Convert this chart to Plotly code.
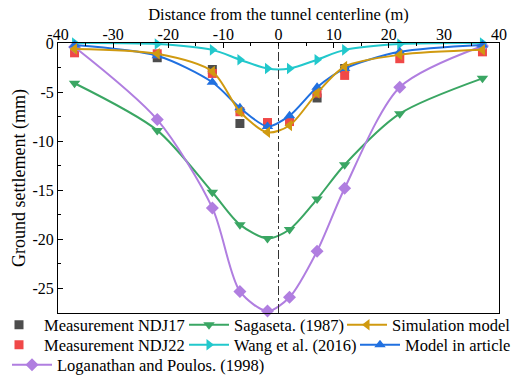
import plotly.graph_objects as go

x = [-37, -22, -12, -7, -2, 2, 7, 12, 22, 37]

ndj17_x = [-22, -12, -7, 7, 12]
ndj17_y = [-1.5, -2.7, -8.2, -5.6, -2.6]

ndj22_x = [-37, -22, -12, -7, -2, 2, 7, 12, 22, 37]
ndj22_y = [-1.0, -1.1, -3.1, -7.0, -8.1, -8.0, -5.1, -3.3, -1.6, -0.9]

sagaseta = [-4.1, -8.9, -15.2, -18.5, -19.9, -19.0, -15.9, -12.4, -7.2, -3.6]
wang = [0.0, -0.1, -0.7, -1.7, -2.6, -2.6, -1.7, -0.7, -0.1, 0.0]
simulation = [-0.6, -1.1, -2.9, -7.0, -9.1, -8.4, -5.1, -2.4, -1.2, -0.7]
model = [-0.2, -1.3, -4.0, -6.6, -8.5, -7.4, -4.5, -2.6, -0.9, -0.2]
loganathan = [-0.4, -7.8, -16.8, -25.3, -27.3, -25.9, -21.2, -14.8, -4.5, -0.3]

x_ticks = [-40, -30, -20, -10, 0, 10, 20, 30, 40]
y_ticks = [0, -5, -10, -15, -20, -25]

serif = "Liberation Serif, Times New Roman, serif"

# plot area in pixels (for legend placement)
L, R, T, B, W, H = 58, 24, 43, 66, 523, 379
PW, PH = W - L - R, H - T - B

def px2paper(px, py):
    return (px - L) / PW, (H - B - py) / PH

fig = go.Figure()
legends = {}

def mk(name, xs, ys, color, symbol, legend_id, lx, ly, line=True):
    fig.add_trace(go.Scatter(
        x=xs, y=ys, name=name, legend=legend_id,
        mode="lines+markers" if line else "markers",
        line=dict(color=color, width=2, shape="spline", smoothing=0.8),
        marker=dict(color=color, symbol=symbol, size=10 if line else 9),
        cliponaxis=False,
    ))
    xp, yp = px2paper(lx, ly)
    legends[legend_id] = dict(
        x=xp, y=yp, xanchor="left", yanchor="middle",
        font=dict(family=serif, size=16.5, color="black"),
        bgcolor="rgba(0,0,0,0)", itemwidth=40, borderwidth=0,
    )

# legend anchor pixel (left edge) chosen to place symbols like the reference
mk("Measurement NDJ17", ndj17_x, ndj17_y, "#4d4d4d", "square", "legend", -6, 325, line=False)
mk("Measurement NDJ22", ndj22_x, ndj22_y, "#f04848", "square", "legend2", -6, 345, line=False)
mk("Sagaseta. (1987)", x, sagaseta, "#3aa663", "triangle-down", "legend3", 184, 325)
mk("Loganathan and Poulos. (1998)", x, loganathan, "#b07ee0", "diamond", "legend4", 7, 365)
mk("Wang et al. (2016)", x, wang, "#22c8cc", "triangle-right", "legend5", 184, 345)
mk("Model in article", x, model, "#2070e0", "triangle-up", "legend6", 355, 345)
mk("Simulation model", x, simulation, "#d09a10", "triangle-left", "legend7", 342, 325)

fig.add_shape(type="line", x0=0, x1=0, y0=0, y1=1, xref="x", yref="paper",
              line=dict(color="#333333", width=1, dash="dashdot"))

fig.update_layout(
    width=W, height=H,
    margin=dict(l=L, r=R, t=T, b=B, autoexpand=False),
    paper_bgcolor="white", plot_bgcolor="white",
    font=dict(family=serif, size=16, color="black"),
    showlegend=True,
    **legends,
)

fig.update_xaxes(
    range=[-40, 40], side="top", tickvals=x_ticks,
    ticktext=[str(v) for v in x_ticks],
    ticks="inside", ticklen=5, tickcolor="black",
    minor=dict(ticks="inside", ticklen=3, dtick=5, tickcolor="black"),
    showline=True, linecolor="black", linewidth=1, mirror=True,
    showgrid=False, zeroline=False,
    tickfont=dict(family=serif, size=16),
    ticklabelstandoff=-4,
    title=dict(text="Distance from the tunnel centerline (m)",
               font=dict(family=serif, size=16.5), standoff=0),
)
fig.update_yaxes(
    range=[-27.5, 0], tickvals=y_ticks,
    ticktext=[str(v) for v in y_ticks],
    ticks="inside", ticklen=5, tickcolor="black",
    minor=dict(ticks="inside", ticklen=3, dtick=2.5, tickcolor="black"),
    showline=True, linecolor="black", linewidth=1, mirror=True,
    showgrid=False, zeroline=False,
    tickfont=dict(family=serif, size=16),
    title=dict(text="Ground settlement (mm)",
               font=dict(family=serif, size=18), standoff=2),
)

fig.write_html("out.html")
